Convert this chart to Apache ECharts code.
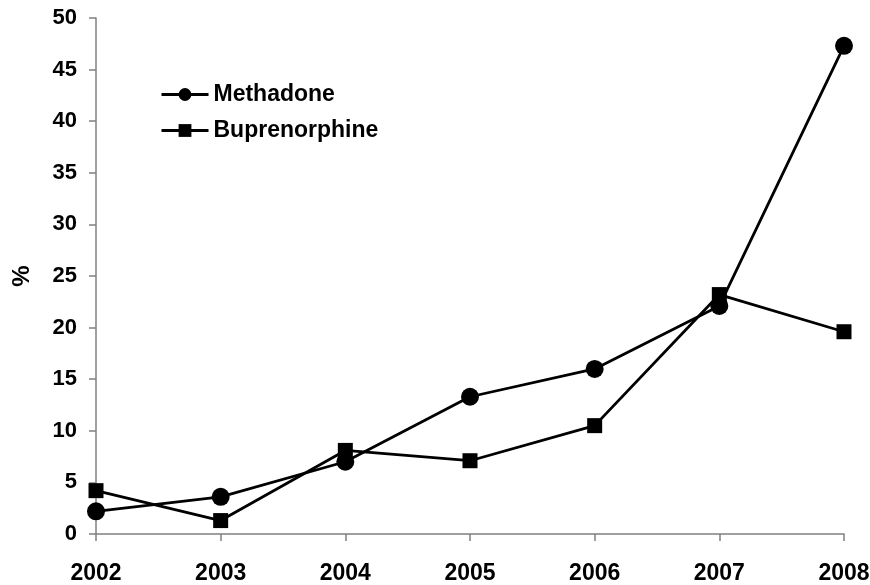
<!DOCTYPE html>
<html lang="en">
<head>
    <meta charset="utf-8">
    <title>Methadone / Buprenorphine</title>
    <script src="https://cdn.jsdelivr.net/npm/echarts@6/dist/echarts.min.js"></script>
    <style>
        html, body { margin: 0; padding: 0; background: #fff; }
        #main { width: 870px; height: 585px; }
    </style>
</head>
<body>
<div id="main"></div>
<script type="text/javascript">
// data
var years = ['2002', '2003', '2004', '2005', '2006', '2007', '2008'];
var methadone = [2.2, 3.6, 7.0, 13.3, 16.0, 22.1, 47.3];
var buprenorphine = [4.2, 1.3, 8.1, 7.1, 10.5, 23.2, 19.6];
var yTicks = [0, 5, 10, 15, 20, 25, 30, 35, 40, 45, 50];

var font = 'Liberation Sans, Arial, sans-serif';
var axisGrey = '#808080';

var myChart = echarts.init(document.getElementById('main'));

var option = {
    animation: false,
    backgroundColor: '#fff',
    grid: {
        left: 96,
        right: 26,
        top: 18,
        bottom: 51,
        containLabel: false,
        outerBoundsMode: 'none'
    },
    legend: {
        orient: 'vertical',
        left: 155,
        top: 78,
        itemWidth: 47,
        itemHeight: 16,
        itemGap: 13,
        lineStyle: { width: 3 },
        textStyle: {
            fontFamily: font,
            fontWeight: 'bold',
            fontSize: 23,
            color: '#000'
        },
        data: ['Methadone', 'Buprenorphine']
    },
    xAxis: {
        type: 'category',
        data: years,
        boundaryGap: false,
        axisLine: { lineStyle: { color: axisGrey, width: 1.5 } },
        axisTick: { alignWithLabel: true, length: 7, lineStyle: { color: axisGrey, width: 1.5 } },
        axisLabel: {
            margin: 28,
            fontFamily: font,
            fontWeight: 'bold',
            fontSize: 23,
            color: '#000'
        },
        splitLine: { show: false }
    },
    yAxis: {
        type: 'value',
        min: yTicks[0],
        max: yTicks[yTicks.length - 1],
        interval: 5,
        name: '%',
        nameLocation: 'middle',
        nameRotate: 90,
        nameGap: 62,
        nameMoveOverlap: false,
        nameTextStyle: {
            fontFamily: font,
            fontWeight: 'bold',
            fontSize: 24,
            color: '#000'
        },
        axisLine: { show: true, lineStyle: { color: axisGrey, width: 1.5 } },
        axisTick: { show: true, length: 7, lineStyle: { color: axisGrey, width: 1.5 } },
        axisLabel: {
            margin: 19,
            fontFamily: font,
            fontWeight: 'bold',
            fontSize: 22,
            color: '#000'
        },
        splitLine: { show: false }
    },
    series: [
        {
            name: 'Methadone',
            type: 'line',
            data: methadone,
            symbol: 'circle',
            symbolSize: 18,
            color: '#000',
            lineStyle: { color: '#000', width: 2.8 },
            itemStyle: { color: '#000' }
        },
        {
            name: 'Buprenorphine',
            type: 'line',
            data: buprenorphine,
            symbol: 'rect',
            symbolSize: 15,
            color: '#000',
            lineStyle: { color: '#000', width: 2.8 },
            itemStyle: { color: '#000' }
        }
    ]
};

myChart.setOption(option);
</script>
</body>
</html>
